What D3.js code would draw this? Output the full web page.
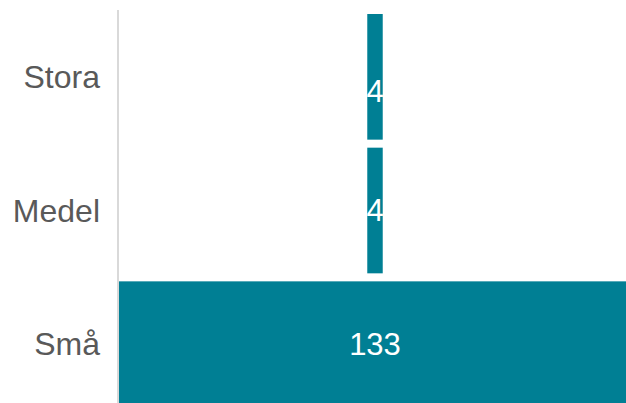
<!DOCTYPE html>
<html>
<meta charset="utf-8">
<head>
    <script src="https://d3js.org/d3.v7.min.js"></script>
<style>
    body { margin: 0; background: #fff; }
    .cat { font-family: "Liberation Sans", Arial, sans-serif; font-size: 32px; fill: #595959; }
    .val { font-family: "Liberation Sans", Arial, sans-serif; font-size: 31px; fill: #fff; }
</style>
</head>
<body>
<script>
    // data
    var categories = ["Stora", "Medel", "Små"];
    var values = [4, 4, 133];

    var width = 626, height = 403;
    var axisX = 118, center = 375;

    var svg = d3.select("body").append("svg")
        .attr("width", width)
        .attr("height", height);

    // bar widths, bars are centred on one line (funnel style)
    var x = d3.scaleLinear().domain([0, 133]).range([0, 514]);
    var y = d3.scaleBand().domain(categories).range([14, 407]).paddingInner(0.06);

    // bars
    svg.selectAll("rect.bar")
        .data(values)
        .enter().append("rect")
        .attr("class", "bar")
        .attr("x", function(d) { return center - x(d) / 2; })
        .attr("y", function(d, i) { return y(categories[i]); })
        .attr("width", function(d) { return x(d); })
        .attr("height", y.bandwidth())
        .attr("fill", "#007F94");

    // axis line
    svg.append("line")
        .attr("x1", axisX).attr("x2", axisX)
        .attr("y1", 10).attr("y2", height)
        .attr("stroke", "#d9d9d9")
        .attr("stroke-width", 2);

    // category labels
    svg.selectAll("text.cat")
        .data(categories)
        .enter().append("text")
        .attr("class", "cat")
        .attr("x", 100)
        .attr("y", function(d) { return y(d) + y.bandwidth() / 2; })
        .attr("dy", "0.35em")
        .attr("text-anchor", "end")
        .text(function(d) { return d; });

    // value labels (top one sits a bit lower, as in the original)
    svg.selectAll("text.val")
        .data(values)
        .enter().append("text")
        .attr("class", "val")
        .attr("x", center)
        .attr("y", function(d, i) { return y(categories[i]) + y.bandwidth() / 2 + (i === 0 ? 14 : 0); })
        .attr("dy", "0.35em")
        .attr("text-anchor", "middle")
        .text(function(d) { return d; });
</script>
</body>
</html>
